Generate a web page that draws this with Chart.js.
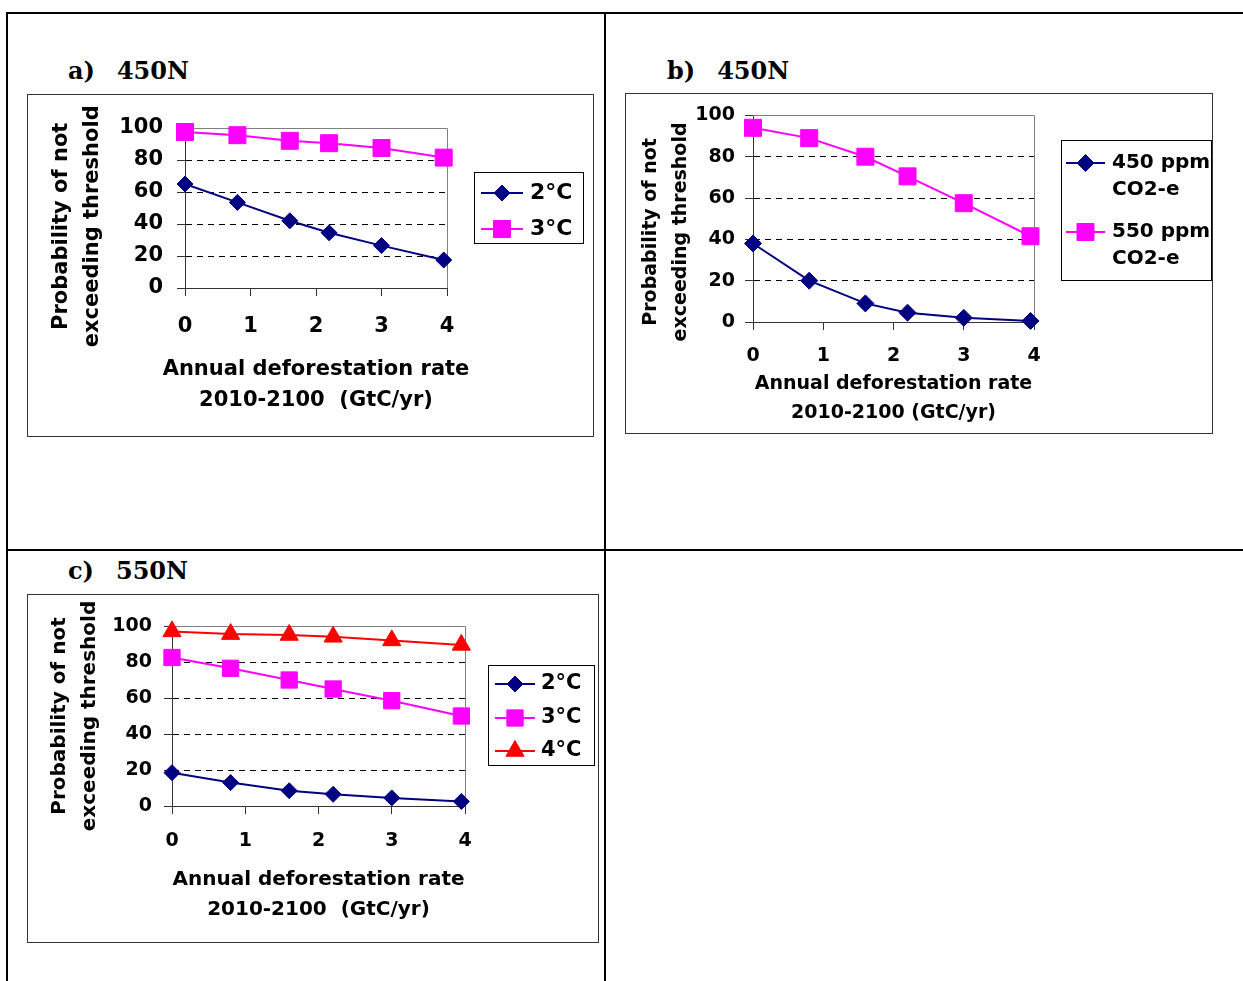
<!DOCTYPE html>
<html>
<head>
<meta charset="utf-8">
<script src="https://cdn.jsdelivr.net/npm/chart.js@4.4.1/dist/chart.umd.min.js"></script>
<style>
  body { margin: 0; background: #fff; width: 1243px; height: 981px; position: relative; overflow: hidden; }
  .ln { position: absolute; background: #000; }
  .ttl { position: absolute; font: bold 24px "DejaVu Serif", serif; white-space: pre; color: #000; }
  .ttl span + span { margin-left: 22px; }
  .box { position: absolute; border: 1px solid #333; box-sizing: border-box; }
  .box canvas { display: block; }
</style>
</head>
<body>
<!-- table lines -->
<div class="ln" style="left:6px;top:12px;width:1237px;height:2px"></div>
<div class="ln" style="left:6px;top:12px;width:2px;height:969px"></div>
<div class="ln" style="left:604px;top:12px;width:2px;height:969px"></div>
<div class="ln" style="left:6px;top:549px;width:1237px;height:2px"></div>

<div class="ttl" style="left:68px;top:56px"><span>a)</span><span>450N</span></div>
<div class="ttl" style="left:667px;top:56px"><span>b)</span><span>450N</span></div>
<div class="ttl" style="left:68px;top:556px"><span>c)</span><span>550N</span></div>

<div class="box" style="left:27px;top:94px;width:567px;height:343px"><canvas id="chartA" width="565" height="341"></canvas></div>
<div class="box" style="left:625px;top:93px;width:588px;height:341px"><canvas id="chartB" width="586" height="339"></canvas></div>
<div class="box" style="left:27px;top:594px;width:572px;height:349px"><canvas id="chartC" width="570" height="347"></canvas></div>

<script>
// deforestation rate (GtC/yr) at each marker
const rateX = [0, 0.8, 1.6, 2.2, 3.0, 3.95];

// a) 450N
const a_2C = [65, 53.5, 42, 34.5, 26.5, 17.5];
const a_3C = [97.5, 95.5, 92, 90.5, 87.5, 81.5];

// b) 450N
const b_450 = [38, 20, 9, 4.5, 2, 0.5];
const b_550 = [94, 89, 80, 70.5, 57.5, 41.5];

// c) 550N
const c_2C = [18.5, 13, 8.5, 6.5, 4.5, 2.5];
const c_3C = [82.5, 76.5, 70, 65, 58.5, 50];
const c_4C = [97, 95.5, 95, 94, 92, 89.5];

const NAVY = '#000080', MAGENTA = '#FF00FF', RED = '#FF0000';

Chart.defaults.font.family = '"DejaVu Sans", sans-serif';
Chart.defaults.font.weight = 'bold';
Chart.defaults.color = '#000';

// gray top + right edge of the plot area
const plotFrame = {
  id: 'plotFrame',
  beforeDatasetsDraw(chart) {
    const a = chart.chartArea, ctx = chart.ctx;
    ctx.save();
    ctx.strokeStyle = '#808080';
    ctx.lineWidth = 1;
    ctx.beginPath();
    ctx.moveTo(a.left, Math.round(a.top) + 0.5);
    ctx.lineTo(Math.round(a.right) + 0.5, Math.round(a.top) + 0.5);
    ctx.lineTo(Math.round(a.right) + 0.5, a.bottom);
    ctx.stroke();
    ctx.restore();
  }
};

// x axis title, drawn here because the built-in one squeezes text to the plot width
const xTitle = {
  id: 'xTitle',
  afterDraw(chart, args, o) {
    const ctx = chart.ctx, a = chart.chartArea;
    ctx.save();
    ctx.font = 'bold ' + o.size + 'px "DejaVu Sans"';
    ctx.fillStyle = '#000';
    ctx.textAlign = 'center';
    ctx.textBaseline = 'middle';
    o.text.forEach((t, k) => ctx.fillText(t, (a.left + a.right) / 2, o.y + k * o.lh));
    ctx.restore();
  }
};

// boxed legend with line + marker like excel
const boxLegend = {
  id: 'boxLegend',
  afterDraw(chart, args, o) {
    const ctx = chart.ctx;
    ctx.save();
    ctx.strokeStyle = '#000';
    ctx.lineWidth = 1;
    ctx.strokeRect(o.x + 0.5, o.y + 0.5, o.w, o.h);
    ctx.font = 'bold ' + o.size + 'px "DejaVu Sans"';
    ctx.textBaseline = 'middle';
    chart.data.datasets.forEach((ds, i) => {
      const y = o.rows[i];
      ctx.strokeStyle = ds.borderColor;
      ctx.lineWidth = 2;
      ctx.beginPath();
      ctx.moveTo(o.lineX, y);
      ctx.lineTo(o.lineX + o.lineW, y);
      ctx.stroke();
      ctx.fillStyle = ds.backgroundColor;
      ctx.lineWidth = 1;
      Chart.helpers.drawPoint(ctx, { pointStyle: ds.pointStyle, radius: ds.pointRadius, rotation: 0, borderWidth: 1 }, o.lineX + o.lineW / 2, y);
      ctx.fillStyle = '#000';
      ds.label.split('\n').forEach((t, k) => ctx.fillText(t, o.textX, y + k * (o.lineGap || 0)));
    });
    ctx.restore();
  }
};

function series(label, values, color, style, r) {
  return {
    label: label,
    data: rateX.map((x, i) => ({ x: x, y: values[i] })),
    borderColor: color,
    backgroundColor: color,
    borderWidth: 2,
    pointStyle: style,
    pointRadius: r,
    pointBorderWidth: 1,
    tension: 0,
    clip: false
  };
}

function makeChart(id, datasets, L) {
  return new Chart(id, {
    type: 'line',
    data: { datasets: datasets },
    options: {
      responsive: false,
      animation: false,
      devicePixelRatio: 1,
      layout: { padding: { top: L.top, right: L.right, left: 0, bottom: 0 } },
      plugins: {
        legend: { display: false },
        tooltip: { enabled: false },
        boxLegend: L.legend,
        xTitle: L.xTitle
      },
      scales: {
        x: {
          type: 'linear', min: 0, max: 4,
          ticks: { stepSize: 1, padding: L.xPad, font: { size: L.tick } },
          grid: { drawOnChartArea: false, tickLength: 8, tickColor: '#333' },
          border: { color: '#333' },
          afterFit(s) { s.height = L.xH; }
        },
        y: {
          min: 0, max: 100,
          ticks: { stepSize: 20, padding: L.yPad, font: { size: L.tick } },
          grid: {
            color: c => (c.tick && (c.tick.value === 0 || c.tick.value === 100)) ? 'rgba(0,0,0,0)' : '#000',
            tickLength: 8, tickColor: '#333'
          },
          border: { color: '#333', dash: [6, 5] },
          title: { display: true, text: L.yTitle, font: { size: L.title, lineHeight: L.lh + 'px' }, padding: { top: L.yTitlePad, bottom: 0 } },
          afterFit(s) { s.width = L.yW; }
        }
      }
    },
    plugins: [plotFrame, boxLegend, xTitle]
  });
}

var chartA = makeChart('chartA', [
  series('2°C', a_2C, NAVY, 'rectRot', 8),
  series('3°C', a_3C, MAGENTA, 'rect', 12)
], {
  top: 33, right: 146, yW: 157, xH: 148, yPad: 14, xPad: 18, tick: 21, title: 21, lh: 31, yTitlePad: 18.5,
  xTitle: { text: ['Annual deforestation rate', '2010-2100  (GtC/yr)'], size: 21, y: 275, lh: 31 },
  yTitle: ['Probability of not     ', 'exceeding threshold     '],
  legend: { x: 446, y: 77, w: 109, h: 71, rows: [98, 134], lineX: 453, lineW: 42, textX: 502, size: 22 }
});

var chartB = makeChart('chartB', [
  series('450 ppm\nCO2-e', b_450, NAVY, 'rectRot', 8.5),
  series('550 ppm\nCO2-e', b_550, MAGENTA, 'rect', 12)
], {
  top: 20, right: 178, yW: 127, xH: 111, yPad: 10, xPad: 15, tick: 19, title: 19, lh: 30, yTitlePad: 10,
  xTitle: { text: ['Annual deforestation rate', '2010-2100 (GtC/yr)'], size: 19, y: 290, lh: 29 },
  yTitle: ['Probability of not    ', 'exceeding threshold    '],
  legend: { x: 435, y: 46, w: 150, h: 140, rows: [69, 138], lineX: 440, lineW: 39, textX: 486, size: 20, lineGap: 27 }
});

var chartC = makeChart('chartC', [
  series('2°C', c_2C, NAVY, 'rectRot', 8),
  series('3°C', c_3C, MAGENTA, 'rect', 11.5),
  series('4°C', c_4C, RED, 'triangle', 10.5)
], {
  top: 31, right: 133, yW: 144, xH: 136, yPad: 12, xPad: 15.5, tick: 19, title: 20, lh: 30, yTitlePad: 17,
  xTitle: { text: ['Annual deforestation rate', '2010-2100  (GtC/yr)'], size: 20, y: 285, lh: 30 },
  yTitle: ['Probability of not', 'exceeding threshold'],
  legend: { x: 460, y: 70, w: 106, h: 100, rows: [89, 123, 156], lineX: 467, lineW: 40, textX: 513, size: 21 }
});
</script>
</body>
</html>
